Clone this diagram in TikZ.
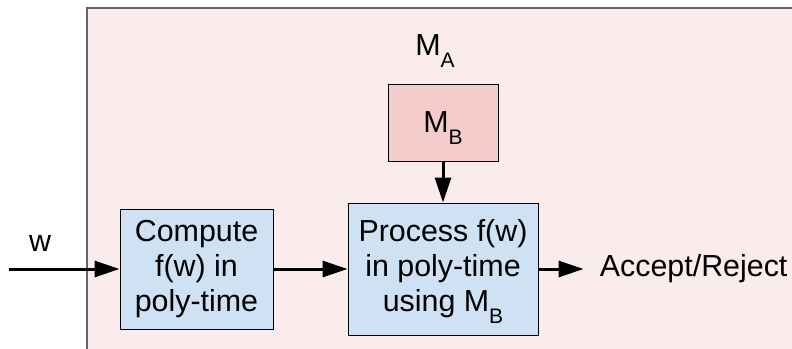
\documentclass[tikz,border=0pt]{standalone}
\usepackage{fontspec}
\setmainfont{Liberation Sans}
\usepackage{xcolor}
\usetikzlibrary{arrows.meta,positioning}
\definecolor{shellpink}{RGB}{250,236,236}
\definecolor{shellgray}{RGB}{102,102,102}
\definecolor{stageblue}{RGB}{207,226,243}
\definecolor{oraclered}{RGB}{244,204,204}
% subscript set low, as in M_A
\newcommand{\lowsub}[1]{\raisebox{-6pt}[0pt][0pt]{\fontsize{10.5}{10.5}\selectfont #1}}

\begin{document}
\begin{tikzpicture}[x=0.5pt, y=-0.5pt, >={Triangle[length=12.5pt,width=8pt]},
    every node/.style={font=\fontsize{15.2}{17.5}\selectfont},
    stagebox/.style={draw, fill=stageblue, align=center, inner sep=0pt, line width=0.5pt},
    flow/.style={->, line width=1.5pt}]
      \useasboundingbox (0,0) rectangle (792,348);
      % the outer machine
      \draw[shellgray, fill=shellpink, line width=0.7pt] (87,8) rectangle (800,360);
      \node (ma) at (435,45) {M\lowsub{A}};

      \node[stagebox, minimum width=76.5pt, minimum height=60pt] (compute) at (196.5,269) {Compute\\f(w) in\\poly-time};
      \node[stagebox, right=37pt of compute, minimum width=95pt, minimum height=66pt] (process) {Process f(w)\\in poly-time\\using M\lowsub{B}};
      \node[stagebox, fill=oraclered, above=20.5pt of process, minimum width=55pt, minimum height=38.5pt] (oracle) {M\lowsub{B}};
      \node[right=30.5pt of process, inner sep=0pt] (result) {Accept/Reject};

      \coordinate (in) at (9,269);
      \node (wlabel) at (40,243) {w};

      \draw[flow] (in) -- (compute.west);
      \draw[flow] (compute) -- (process);
      \draw[flow] (oracle) -- (process);
      \draw[flow, shorten >=8pt] (process) -- (result);
    \end{tikzpicture}
\end{document}
